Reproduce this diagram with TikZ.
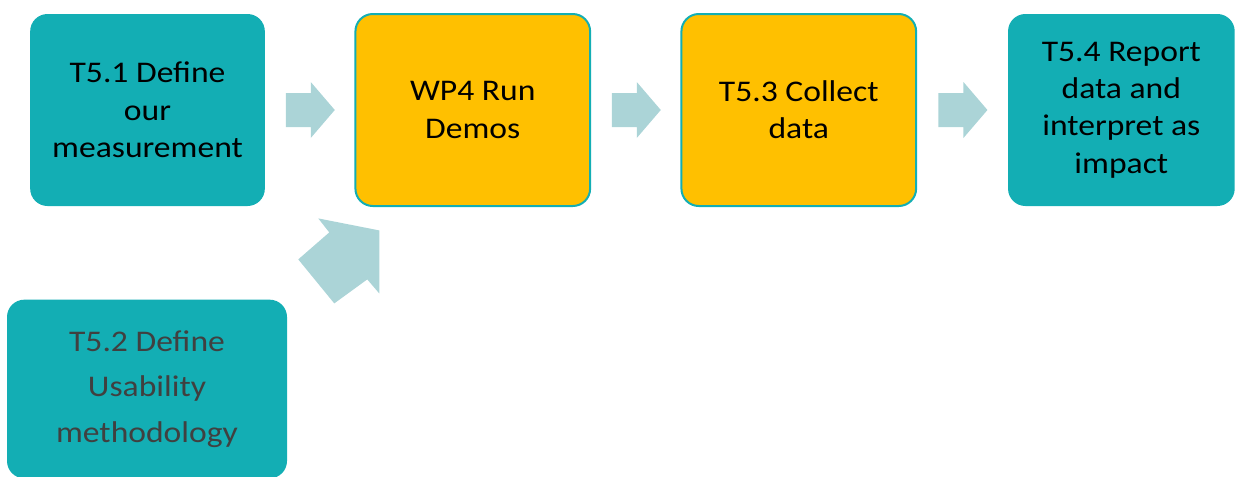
\documentclass[tikz,border=0pt]{standalone}
\usepackage{fontspec}
\setmainfont{Carlito}[FakeStretch=1.12]
\usetikzlibrary{positioning, calc}

\definecolor{boxteal}{RGB}{19,174,180}
\definecolor{demoyellow}{RGB}{255,192,0}
\definecolor{flowgrey}{RGB}{171,212,215}
\definecolor{softtext}{RGB}{64,64,64}

% block arrow sitting half way between two boxes
\newcommand{\flowarrow}[2]{%
	\fill[flow] ($(#1.east)!0.5!(#2.west)+(-24,-17)$) -- ++(25,0) -- ++(0,-11)
		-- ++(24,28) -- ++(-24,28) -- ++(0,-11) -- ++(-25,0) -- cycle;}

\begin{document}
\begin{tikzpicture}[
		x=0.75pt, y=-0.75pt,
		task/.style={fill=boxteal, rounded corners=13pt, align=center, inner sep=0pt,
			minimum width=176pt, minimum height=144pt,
			font=\fontsize{22.5pt}{28pt}\selectfont},
		demo/.style={task, fill=demoyellow, draw=boxteal, line width=1.5pt},
		flow/.style={fill=flowgrey}
		]
		\useasboundingbox (0,0) rectangle (1239,476);
		
		% --- 1. The work packages in a row ---
		\node[task] (t51) at (147.5,110) {T5.1 Define\\our\\measurement};
		\node[demo, right=67pt of t51] (wp4) {WP4 Run\\Demos};
		\node[demo, right=67pt of wp4] (t53) {T5.3 Collect\\data};
		\node[task, minimum width=170pt, right=68pt of t53] (t54) {T5.4 Report\\data and\\interpret as\\impact};
		
		\flowarrow{t51}{wp4}
		\flowarrow{wp4}{t53}
		\flowarrow{t53}{t54}
		
		% --- 2. Usability task feeding the demos ---
		\node[task, minimum width=210pt, minimum height=134pt, text=softtext,
			font=\fontsize{22.5pt}{34pt}\selectfont] (t52) at (147,389)
			{T5.2 Define\\Usability\\methodology};
		
		\begin{scope}[shift={(t52.north east)}]
			\fill[flow] (31,-81) -- (92,-69) -- (92,-6) -- (80,-20) -- (47,4) -- (11,-40) -- (42,-67) -- cycle;
		\end{scope}
		
	\end{tikzpicture}
\end{document}
